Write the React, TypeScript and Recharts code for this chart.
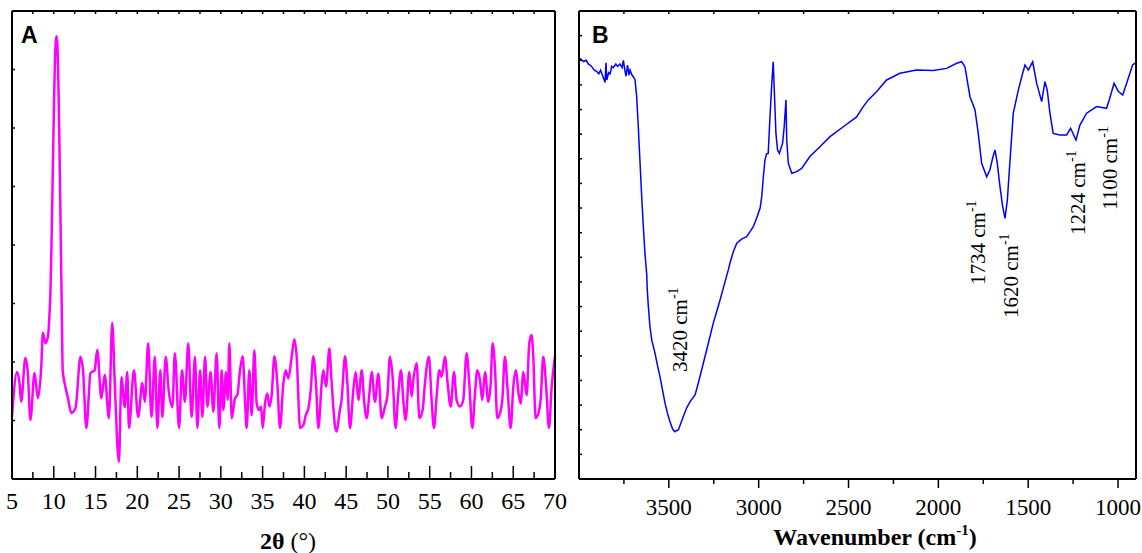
import React from 'react';
import { LineChart, Line, XAxis, YAxis } from 'recharts';

// Panel A: XRD pattern
const xrdAngle = [
  5.0, 5.6, 5.9, 6.1, 6.6, 6.9, 7.2, 7.7, 8.1, 8.5, 8.7, 9.0, 9.3, 9.55, 10.3, 10.4, 10.95, 11.07, 11.4, 11.7,
  12.1, 12.6, 13.2, 13.5, 13.9, 14.4, 14.9, 15.2, 15.7, 16.1, 16.6, 17.0, 17.3, 17.8, 18.1, 18.5, 18.8, 19.0,
  19.6, 20.1, 20.6, 20.9, 21.3, 21.7, 22.1, 22.4, 22.75, 23.0, 23.4, 23.75, 24.2, 24.5, 25.0, 25.35, 25.7,
  26.1, 26.5, 26.9, 27.19, 27.51, 27.79, 28.11, 28.39, 28.78, 29.1, 29.5, 29.82, 30.1, 30.3, 30.62, 30.82,
  31.02, 31.3, 31.7, 31.98, 32.3, 32.62, 32.89, 33.09, 33.41, 33.69, 34.01, 34.29, 34.57, 34.81, 35.01,
  35.29, 35.57, 35.81, 36.09, 36.41, 36.76, 37.08, 37.48, 37.76, 38.08, 38.48, 38.8, 39.08, 39.48, 39.88,
  40.16, 40.48, 40.76, 41.07, 41.39, 41.67, 42.07, 42.27, 42.59, 42.99, 43.27, 43.67, 43.87, 44.19, 44.47,
  44.87, 45.15, 45.46, 45.86, 46.14, 46.46, 46.86, 47.14, 47.46, 47.78, 48.06, 48.45, 48.85, 49.25, 49.65,
  49.93, 50.24, 50.56, 50.92, 51.24, 51.56, 51.84, 52.12, 52.56, 52.84, 53.04, 53.44, 53.76, 54.16, 54.43,
  54.91, 55.23, 55.51, 55.83, 56.15, 56.43, 56.83, 57.15, 57.51, 57.91, 58.22, 58.62, 59.02, 59.42, 59.74,
  60.1, 60.42, 60.7, 61.02, 61.3, 61.62, 62.02, 62.3, 62.53, 62.81, 63.09, 63.41, 63.69, 64.01, 64.33,
  64.69, 65.01, 65.33, 65.61, 65.89, 66.21, 66.61, 66.92, 67.2, 67.4, 67.68, 68.0, 68.28, 68.6, 68.92,
  69.28, 69.6, 70.0,
];
const xrdIntensity = [
  1.06, 1.83, 1.64, 1.32, 2.07, 1.81, 1.01, 1.81, 1.38, 1.91, 2.5, 2.32, 2.43, 3.0, 7.57, 7.5, 3.0, 1.86, 1.57, 1.38,
  1.13, 1.21, 2.09, 1.86, 0.87, 1.81, 1.86, 2.21, 1.38, 1.78, 1.04, 2.67, 1.64, 0.29, 1.74, 1.23, 1.83, 0.87,
  1.86, 1.06, 1.64, 1.32, 2.32, 1.06, 2.09, 0.87, 1.86, 1.06, 2.09, 1.52, 1.23, 2.15, 0.87, 1.86, 1.32,
  2.32, 1.06, 2.09, 0.87, 1.86, 1.06, 2.09, 1.24, 1.83, 1.15, 2.15, 0.87, 1.86, 1.18, 1.83, 1.35,
  2.32, 1.04, 1.38, 1.44, 1.86, 2.1, 1.35, 0.87, 1.86, 1.09, 2.2, 1.29, 1.18, 1.24, 0.87,
  1.29, 1.46, 1.24, 1.44, 2.1, 1.63, 0.87, 1.63, 1.86, 1.72, 2.09, 2.39, 2.09, 0.87, 0.92,
  1.09, 1.21, 1.52, 2.1, 1.63, 0.87, 1.63, 1.86, 1.58, 2.23, 1.63, 0.9, 0.81, 1.12, 1.38,
  2.1, 1.63, 0.87, 1.52, 1.83, 1.35, 1.86, 1.35, 1.04, 1.46, 1.83, 1.32, 1.8, 1.04, 1.24,
  1.41, 2.09, 1.75, 0.87, 1.46, 1.86, 1.35, 1.01, 1.83, 1.41, 1.69, 1.98, 1.04, 1.18, 1.63,
  2.09, 1.35, 0.87, 1.41, 1.86, 1.75, 2.09, 1.63, 1.24, 1.83, 1.35, 1.24, 1.35, 2.15, 1.63,
  0.87, 1.46, 1.86, 1.69, 1.35, 1.83, 1.32, 1.63, 2.32, 1.92, 1.04, 1.12, 1.35, 2.09, 1.52,
  0.87, 1.58, 1.86, 1.49, 1.29, 1.83, 1.43, 2.32, 2.46, 2.09, 1.04, 1.12, 1.35, 2.09, 1.63,
  0.87, 1.58, 2.1,
];
const xrdTicks = [5, 7.5, 10, 12.5, 15, 17.5, 20, 22.5, 25, 27.5, 30, 32.5, 35, 37.5, 40, 42.5, 45, 47.5, 50, 52.5, 55, 57.5, 60, 62.5, 65, 67.5, 70];
const xrdYTicks = [1, 2, 3, 4, 5, 6, 7];

// Panel B: FTIR spectrum
const irWavenumber = [
  3995, 3975, 3960, 3948, 3930, 3915, 3902, 3890, 3880, 3865, 3855, 3850, 3845, 3835, 3827, 3818, 3809, 3795,
  3785, 3772, 3760, 3753, 3745, 3738, 3730, 3722, 3716, 3705, 3695, 3688, 3679, 3670, 3661, 3652, 3642, 3633,
  3623, 3620, 3614, 3605, 3595, 3577, 3564, 3549, 3535, 3521, 3508, 3494, 3479, 3466, 3455, 3447, 3420, 3401,
  3382, 3354, 3336, 3308, 3280, 3253, 3234, 3215, 3192, 3169, 3160, 3141, 3122, 3095, 3067, 3048, 3030, 3011,
  3002, 2992, 2983, 2974, 2965, 2956, 2947, 2937, 2928, 2919, 2911, 2904, 2895, 2885, 2867, 2858, 2848, 2844,
  2835, 2816, 2789, 2761, 2715, 2659, 2603, 2529, 2455, 2418, 2390, 2343, 2288, 2214, 2121, 2028, 1954, 1898,
  1870, 1852, 1824, 1796, 1778, 1759, 1731, 1713, 1698, 1685, 1672, 1657, 1642, 1629, 1616, 1601, 1583, 1555,
  1536, 1518, 1499, 1475, 1453, 1425, 1407, 1394, 1379, 1361, 1324, 1286, 1264, 1234, 1212, 1175, 1119, 1064,
  1049, 1022, 998, 974, 952, 919, 906,
];
const irTransmittance = [
  17.08, 16.95, 17.0, 16.85, 16.75, 16.6, 16.55, 16.45, 16.6, 16.3, 16.1, 16.9, 16.2, 16.5, 16.45, 16.75, 16.7, 16.85,
  16.75, 16.85, 16.7, 17.0, 16.6, 16.35, 16.8, 16.4, 16.6, 16.4, 16.3, 16.2, 15.52, 14.3, 12.95, 11.6, 10.24, 9.17,
  8.3, 7.67, 7.0, 6.18, 5.64, 5.11, 4.63, 4.15, 3.61, 3.07, 2.68, 2.33, 2.03, 1.92, 1.97, 1.99, 2.53, 2.88,
  3.14, 3.41, 3.9, 4.7, 5.52, 6.32, 6.79, 7.27, 7.88, 8.49, 8.76, 9.23, 9.57, 9.74, 9.84, 10.04, 10.24, 10.6,
  10.79, 11.0, 11.46, 12.27, 12.95, 13.2, 13.22, 14.71, 15.93, 16.94, 15.39, 14.03, 13.36, 13.22, 13.63, 14.3, 15.39, 13.76,
  12.82, 12.41, 12.48, 12.61, 13.09, 13.49, 13.9, 14.3, 14.7, 15.12, 15.39, 15.73, 16.2, 16.47, 16.6, 16.58, 16.67, 16.88,
  16.94, 16.74, 15.52, 14.98, 14.03, 12.82, 12.27, 12.55, 13.02, 13.36, 12.82, 11.87, 11.06, 10.58, 11.33, 12.95, 14.85, 15.79,
  16.33, 16.81, 16.6, 16.94, 16.07, 15.32, 16.13, 15.79, 14.85, 14.03, 13.97, 13.97, 14.24, 13.76, 14.37, 14.85, 15.12, 15.05,
  15.39, 16.07, 15.73, 15.59, 16.07, 16.81, 16.88,
];
const irTicks = [3750, 3500, 3250, 3000, 2750, 2500, 2250, 2000, 1750, 1500, 1250, 1000];
const irYTicks = [1, 2, 3, 4, 5, 6, 7, 8, 9, 10, 11, 12, 13, 14, 15, 16, 17, 18];

const xrdData = xrdAngle.map((a, i) => ({ angle: a, intensity: xrdIntensity[i] }));
const irData = irWavenumber.map((w, i) => ({ wn: w, t: irTransmittance[i] }));

const SERIF = '"Liberation Serif", "Times New Roman", serif';
const SANS = '"Liberation Sans", Arial, sans-serif';

// ticks are drawn by hand so they can point into the frame
const XrdBottomTick = (props: any) => {
  const { x, y, payload } = props;
  const major = payload.value % 5 === 0;
  return (
    <g>
      <line x1={x} x2={x} y1={y} y2={y - (major ? 13 : 7)} stroke="#000" strokeWidth={1.5} />
      {major && (
        <text x={x} y={y + 30} textAnchor="middle" fill="#000" style={{ fontFamily: SERIF, fontSize: 24 }}>
          {payload.value}
        </text>
      )}
    </g>
  );
};

const IrBottomTick = (props: any) => {
  const { x, y, payload } = props;
  const major = payload.value % 500 === 0;
  return (
    <g>
      <line x1={x} x2={x} y1={y} y2={y + (major ? 9 : 5)} stroke="#000" strokeWidth={1.5} />
      {major && (
        <text x={x} y={y + 36} textAnchor="middle" fill="#000" style={{ fontFamily: SERIF, fontSize: 23 }}>
          {payload.value}
        </text>
      )}
    </g>
  );
};

const TopTick = (props: any) => {
  const { x, y } = props;
  return <line x1={x} x2={x} y1={y} y2={y + 3} stroke="#000" strokeWidth={1.5} />;
};

const LeftTick = (props: any) => {
  const { x, y } = props;
  return <line x1={x} x2={x + 3} y1={y} y2={y} stroke="#000" strokeWidth={1.5} />;
};

const RightTick = (props: any) => {
  const { x, y } = props;
  return <line x1={x} x2={x - 3} y1={y} y2={y} stroke="#000" strokeWidth={1.5} />;
};

const frame = { stroke: '#000', strokeWidth: 2 };

export default function App() {
  return (
    <div style={{ position: 'absolute', left: 0, top: 0, width: 1142, height: 553, background: '#fff' }}>
      <div style={{ position: 'absolute', left: 0, top: 0 }}>
        <LineChart width={570} height={553} data={xrdData} margin={{ top: 10, left: 11, right: 14, bottom: 34 }}>
          <XAxis dataKey="angle" type="number" domain={[5, 70]} ticks={xrdTicks} interval={0}
            height={40} tickSize={0} tickMargin={0} axisLine={frame} tickLine={false} tick={<XrdBottomTick />} />
          <XAxis xAxisId="top" orientation="top" dataKey="angle" type="number" domain={[5, 70]} ticks={xrdTicks}
            interval={0} height={1} tickSize={0} tickMargin={0} axisLine={frame} tickLine={false} tick={<TopTick />} />
          <YAxis type="number" domain={[0, 8]} ticks={xrdYTicks} interval={0} width={1} tickSize={0} tickMargin={0}
            axisLine={frame} tickLine={false} tick={<LeftTick />} />
          <YAxis yAxisId="right" orientation="right" type="number" domain={[0, 8]} ticks={xrdYTicks} interval={0}
            width={1} tickSize={0} tickMargin={0} axisLine={frame} tickLine={false} tick={<RightTick />} />
          <Line dataKey="intensity" type="monotone" stroke="#ff00ff" strokeWidth={2.5} dot={false} isAnimationActive={false} />
        </LineChart>
      </div>
      <div style={{ position: 'absolute', left: 570, top: 0 }}>
        <LineChart width={572} height={553} data={irData} margin={{ top: 10, left: 8, right: 5, bottom: 34 }}>
          <XAxis dataKey="wn" type="number" domain={[900, 4000]} reversed ticks={irTicks} interval={0}
            height={40} tickSize={0} tickMargin={0} axisLine={frame} tickLine={false} tick={<IrBottomTick />} />
          <XAxis xAxisId="top" orientation="top" dataKey="wn" type="number" domain={[900, 4000]} reversed ticks={irTicks}
            interval={0} height={1} tickSize={0} tickMargin={0} axisLine={frame} tickLine={false} tick={<TopTick />} />
          <YAxis type="number" domain={[0, 19]} ticks={irYTicks} interval={0} width={1} tickSize={0} tickMargin={0}
            axisLine={frame} tickLine={false} tick={<LeftTick />} />
          <YAxis yAxisId="right" orientation="right" type="number" domain={[0, 19]} ticks={irYTicks} interval={0}
            width={1} tickSize={0} tickMargin={0} axisLine={frame} tickLine={false} tick={<RightTick />} />
          <Line dataKey="t" type="linear" stroke="#0000ff" strokeWidth={1.5} dot={false} isAnimationActive={false} />
        </LineChart>
      </div>
      <svg width={1142} height={553} style={{ position: 'absolute', left: 0, top: 0, pointerEvents: 'none' }}>
        <text x={21} y={43} fontFamily={SANS} fontWeight="bold" fontSize={23} fill="#000">A</text>
        <text x={592} y={43} fontFamily={SANS} fontWeight="bold" fontSize={23} fill="#000">B</text>
        <text x={288} y={549} textAnchor="middle" fontFamily={SERIF} fontSize={24} fill="#000">
          <tspan fontWeight="bold">2θ</tspan> (°)
        </text>
        <text x={875} y={545} textAnchor="middle" fontFamily={SERIF} fontWeight="bold" fontSize={24} fill="#000">
          Wavenumber (cm<tspan dy={-10} fontSize={15}>-1</tspan><tspan dy={10}>)</tspan>
        </text>
        {[
          { x: 687, y: 372, label: '3420' },
          { x: 985, y: 285, label: '1734' },
          { x: 1018, y: 318, label: '1620' },
          { x: 1085, y: 235, label: '1224' },
          { x: 1117, y: 210, label: '1100' },
        ].map((a) => (
          <text key={a.label} x={a.x} y={a.y} transform={`rotate(-90 ${a.x} ${a.y})`} fontFamily={SERIF} fontSize={21} fill="#000">
            {a.label} cm<tspan dy={-9} fontSize={14}>-1</tspan>
          </text>
        ))}
      </svg>
    </div>
  );
}
